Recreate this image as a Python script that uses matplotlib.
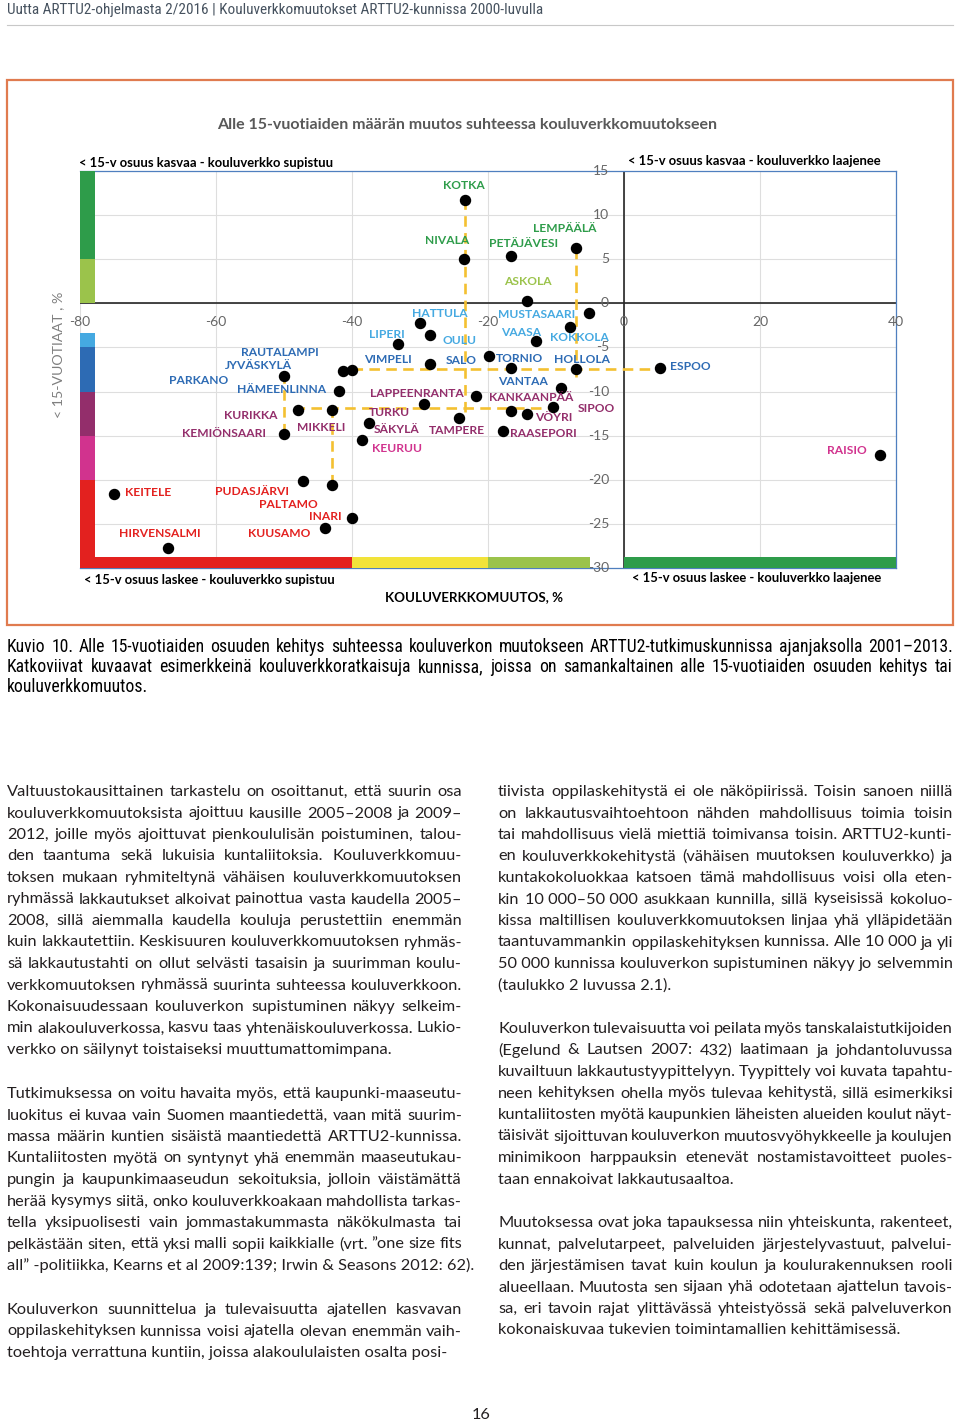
import matplotlib
matplotlib.use("Agg")
import matplotlib.pyplot as plt
from matplotlib import font_manager as fm
from matplotlib.patches import Rectangle
from matplotlib.lines import Line2D

W, H = 960, 1422
plt.rcParams["font.family"] = ["Lato", "DejaVu Sans"]

# kapea kirjasin otsakkeelle ja kuvatekstille, jos sellainen löytyy
asennetut = {f.name for f in fm.fontManager.ttflist}
kapea = "Lato"
for nimi in ["Roboto Condensed", "Liberation Sans Narrow", "Open Sans Condensed"]:
    if nimi in asennetut:
        kapea = nimi
        break

# ---- kuvion data (luettu kuvasta) ----
kunnat = ["KOTKA", "NIVALA", "PETÄJÄVESI", "LEMPÄÄLÄ", "ASKOLA", "MUSTASAARI",
          "HATTULA", "KOKKOLA", "OULU", "VAASA", "LIPERI", "SALO", "VIMPELI",
          "TORNIO", "HOLLOLA", "ESPOO", "RAUTALAMPI", "JYVÄSKYLÄ", "PARKANO",
          "VANTAA", "HÄMEENLINNA", "LAPPEENRANTA", "TURKU", "SIPOO", "KURIKKA",
          "MIKKELI", "KANKAANPÄÄ", "VÖYRI", "TAMPERE", "SÄKYLÄ", "RAASEPORI",
          "KEMIÖNSAARI", "KEURUU", "RAISIO", "PUDASJÄRVI", "PALTAMO", "KEITELE",
          "INARI", "KUUSAMO", "HIRVENSALMI"]
# kouluverkkomuutos, %
verkko = [-23.4, -23.5, -16.6, -7.1, -14.2, -5.2,
          -30.0, -8.0, -28.6, -12.9, -33.3, -19.9, -28.6,
          -16.6, -7.1, 5.3, -41.3, -40.0, -50.0,
          -9.3, -41.9, -21.8, -29.4, -10.5, -48.0,
          -42.9, -16.6, -14.2, -24.3, -37.5, -17.8,
          -50.0, -38.5, 37.7, -47.2, -42.9, -75.0,
          -40.0, -44.0, -67.1]
# alle 15-vuotiaiden osuuden muutos, %
alle15 = [11.7, 5.0, 5.4, 6.3, 0.3, -1.1,
          -2.2, -2.7, -3.6, -4.3, -4.6, -6.0, -6.9,
          -7.3, -7.4, -7.3, -7.7, -7.6, -8.2,
          -9.6, -9.9, -10.5, -11.4, -11.8, -12.1,
          -12.1, -12.2, -12.6, -13.0, -13.6, -14.5,
          -14.8, -15.5, -17.2, -20.1, -20.6, -21.6,
          -24.3, -25.5, -27.7]

# katkoviivat (esimerkkiratkaisut)
pysty_x = [-23.4, -7.1, -50.0, -42.9]
pysty_ala = [-12.3, -8.4, -14.8, -20.6]
pysty_yla = [11.7, 6.3, -8.2, -12.1]
vaaka_y = [-7.5, -11.9]
vaaka_vasen = [-40.0, -48.5]
vaaka_oikea = [5.3, -10.5]

x_ticks = [-80, -60, -40, -20, 0, 20, 40]
y_ticks = [15, 10, 5, 0, -5, -10, -15, -20, -25, -30]

# värivyöhykkeet y-akselilla ja x-akselilla
y_rajat = [15, 5, 0, -5, -10, -15, -20, -30]
y_varit = ["#2e9c4a", "#9bc34b", "#45a9e1", "#2d6bb4", "#932e6b", "#d1338e", "#e3211f"]
x_rajat = [-80, -40, -20, -5, 0, 40]
x_varit = ["#e3211f", "#f2e33a", "#9bc34b", None, "#2e9c4a"]

# nimien paikat (keskipiste, datakoordinaateissa)
nimi_paikka = {
    "KOTKA": (-23.6, 13.3), "NIVALA": (-26.0, 7.1), "PETÄJÄVESI": (-14.8, 6.8),
    "LEMPÄÄLÄ": (-8.7, 8.5), "ASKOLA": (-14.2, 2.5), "MUSTASAARI": (-12.8, -1.3),
    "HATTULA": (-27.1, -1.1), "LIPERI": (-34.9, -3.5), "OULU": (-24.2, -4.2),
    "VAASA": (-15.1, -3.3), "KOKKOLA": (-6.5, -3.9), "VIMPELI": (-34.7, -6.4),
    "SALO": (-23.9, -6.5), "TORNIO": (-15.3, -6.2), "HOLLOLA": (-6.2, -6.4),
    "VANTAA": (-14.9, -8.9), "LAPPEENRANTA": (-30.4, -10.2),
    "KANKAANPÄÄ": (-13.6, -10.7), "SIPOO": (-4.1, -11.9), "TURKU": (-34.5, -12.4),
    "VÖYRI": (-10.3, -12.9), "SÄKYLÄ": (-33.4, -14.3), "TAMPERE": (-24.6, -14.4),
    "RAASEPORI": (-11.9, -14.8), "KEURUU": (-33.4, -16.5),
    "RAUTALAMPI": (-50.6, -5.6), "JYVÄSKYLÄ": (-53.8, -7.1), "PARKANO": (-62.6, -8.7),
    "HÄMEENLINNA": (-50.3, -9.8), "KURIKKA": (-54.9, -12.7),
    "KEMIÖNSAARI": (-58.8, -14.8), "MIKKELI": (-44.6, -14.1),
    "ESPOO": (9.8, -7.2), "RAISIO": (32.8, -16.7), "KEITELE": (-70.0, -21.4),
    "PUDASJÄRVI": (-54.7, -21.3), "PALTAMO": (-49.4, -22.8), "INARI": (-43.9, -24.2),
    "HIRVENSALMI": (-68.2, -26.1), "KUUSAMO": (-50.7, -26.1),
}

# ---- sivun tekstit ----
otsake = "Uutta ARTTU2-ohjelmasta 2/2016 | Kouluverkkomuutokset ARTTU2-kunnissa 2000-luvulla"
kuvateksti = [
    "Kuvio 10. Alle 15-vuotiaiden osuuden kehitys suhteessa kouluverkon muutokseen ARTTU2-tutkimuskunnissa ajanjaksolla 2001–2013.",
    "Katkoviivat kuvaavat esimerkkeinä kouluverkkoratkaisuja kunnissa, joissa on samankaltainen alle 15-vuotiaiden osuuden kehitys tai",
    "kouluverkkomuutos.",
]
vasen_palsta = [
    (791, [
        "Valtuustokausittainen tarkastelu on osoittanut, että suurin osa",
        "kouluverkkomuutoksista ajoittuu kausille 2005–2008 ja 2009–",
        "2012, joille myös ajoittuvat pienkoululisän poistuminen, talou-",
        "den taantuma sekä lukuisia kuntaliitoksia. Kouluverkkomuu-",
        "toksen mukaan ryhmiteltynä vähäisen kouluverkkomuutoksen",
        "ryhmässä lakkautukset alkoivat painottua vasta kaudella 2005–",
        "2008, sillä aiemmalla kaudella kouluja perustettiin enemmän",
        "kuin lakkautettiin. Keskisuuren kouluverkkomuutoksen ryhmäs-",
        "sä lakkautustahti on ollut selvästi tasaisin ja suurimman koulu-",
        "verkkomuutoksen ryhmässä suurinta suhteessa kouluverkkoon.",
        "Kokonaisuudessaan kouluverkon supistuminen näkyy selkeim-",
        "min alakouluverkossa, kasvu taas yhtenäiskouluverkossa. Lukio-",
        "verkko on säilynyt toistaiseksi muuttumattomimpana.",
    ]),
    (1093, [
        "Tutkimuksessa on voitu havaita myös, että kaupunki-maaseutu-",
        "luokitus ei kuvaa vain Suomen maantiedettä, vaan mitä suurim-",
        "massa määrin kuntien sisäistä maantiedettä ARTTU2-kunnissa.",
        "Kuntaliitosten myötä on syntynyt yhä enemmän maaseutukau-",
        "pungin ja kaupunkimaaseudun sekoituksia, jolloin väistämättä",
        "herää kysymys siitä, onko kouluverkkoakaan mahdollista tarkas-",
        "tella yksipuolisesti vain jommastakummasta näkökulmasta tai",
        "pelkästään siten, että yksi malli sopii kaikkialle (vrt. ”one size fits",
        "all” -politiikka, Kearns et al 2009:139; Irwin & Seasons 2012: 62).",
    ]),
    (1309, [
        "Kouluverkon suunnittelua ja tulevaisuutta ajatellen kasvavan",
        "oppilaskehityksen kunnissa voisi ajatella olevan enemmän vaih-",
        "toehtoja verrattuna kuntiin, joissa alakoululaisten osalta posi-",
    ]),
]
oikea_palsta = [
    (791, [
        "tiivista oppilaskehitystä ei ole näköpiirissä. Toisin sanoen niillä",
        "on lakkautusvaihtoehtoon nähden mahdollisuus toimia toisin",
        "tai mahdollisuus vielä miettiä toimivansa toisin. ARTTU2-kunti-",
        "en kouluverkkokehitystä (vähäisen muutoksen kouluverkko) ja",
        "kuntakokoluokkaa katsoen tämä mahdollisuus voisi olla eten-",
        "kin 10\u00a0000–50\u00a0000 asukkaan kunnilla, sillä kyseisissä kokoluo-",
        "kissa maltillisen kouluverkkomuutoksen linjaa yhä ylläpidetään",
        "taantuvammankin oppilaskehityksen kunnissa. Alle 10\u00a0000 ja yli",
        "50\u00a0000 kunnissa kouluverkon supistuminen näkyy jo selvemmin",
        "(taulukko 2 luvussa 2.1).",
    ]),
    (1028, [
        "Kouluverkon tulevaisuutta voi peilata myös tanskalaistutkijoiden",
        "(Egelund & Lautsen 2007: 432) laatimaan ja johdantoluvussa",
        "kuvailtuun lakkautustyypittelyyn. Tyypittely voi kuvata tapahtu-",
        "neen kehityksen ohella myös tulevaa kehitystä, sillä esimerkiksi",
        "kuntaliitosten myötä kaupunkien läheisten alueiden koulut näyt-",
        "täisivät sijoittuvan kouluverkon muutosvyöhykkeelle ja koulujen",
        "minimikoon harppauksin etenevät nostamistavoitteet puoles-",
        "taan ennakoivat lakkautusaaltoa.",
    ]),
    (1222, [
        "Muutoksessa ovat joka tapauksessa niin yhteiskunta, rakenteet,",
        "kunnat, palvelutarpeet, palveluiden järjestelyvastuut, palvelui-",
        "den järjestämisen tavat kuin koulun ja koulurakennuksen rooli",
        "alueellaan. Muutosta sen sijaan yhä odotetaan ajattelun tavois-",
        "sa, eri tavoin rajat ylittävässä yhteistyössä sekä palveluverkon",
        "kokonaiskuvaa tukevien toimintamallien kehittämisessä.",
    ]),
]

fig = plt.figure(figsize=(W / 100, H / 100), dpi=100)
renderer = fig.canvas.get_renderer()


def fx(x):
    return x / W


def fy(y):
    return 1 - y / H


def leveys(s, size, weight="normal", family="Lato"):
    t = fig.text(0, 0, s, fontsize=size, weight=weight, family=[family, "DejaVu Sans"])
    w = t.get_window_extent(renderer).width
    t.remove()
    return w


def sovita(s, target, weight="normal", family="Lato"):
    return 10 * target / leveys(s, 10, weight, family)


def tasaa(rivit, x0, x1, y0, askel, size, color="#231f20", family="Lato"):
    # tasattu kappale: sanat levitetään palstan leveydelle, viimeinen rivi vasemmalle
    fam = [family, "DejaVu Sans"]
    for i, rivi in enumerate(rivit):
        y = fy(y0 + i * askel + 5)
        sanat = rivi.split(" ")
        if i == len(rivit) - 1 or len(sanat) < 2:
            fig.text(fx(x0), y, rivi, fontsize=size, color=color, va="baseline", family=fam)
            continue
        lev = [leveys(s, size, family=family) for s in sanat]
        vali = (x1 - x0 - sum(lev)) / (len(sanat) - 1)
        x = x0
        for s, l in zip(sanat, lev):
            fig.text(fx(x), y, s, fontsize=size, color=color, va="baseline", family=fam)
            x += l + vali


# ---- sivun ylä- ja alaosa ----
fig.text(fx(7), fy(14), otsake, fontsize=sovita(otsake, 534, family=kapea),
         color="#46525f", va="baseline", family=[kapea, "DejaVu Sans"])
fig.add_artist(Line2D([fx(7), fx(953)], [fy(25), fy(25)], color="#c8c8c8", lw=0.8))
fig.add_artist(Rectangle((fx(7), fy(625)), fx(946), 545 / H, fill=False,
                         ec="#e07b4f", lw=1.6))

kt_size = sovita(kuvateksti[-1], 141, family=kapea)
tasaa(kuvateksti, 7, 953, 647, 20, kt_size, color="black", family=kapea)

body = sovita(vasen_palsta[0][1][-1], 383)
for y0, rivit in vasen_palsta:
    tasaa(rivit, 7, 462, y0, 21.5, body)
for y0, rivit in oikea_palsta:
    tasaa(rivit, 498, 953, y0, 21.5, body)
fig.text(fx(481), fy(1419), "16", fontsize=body, color="#231f20", ha="center", va="baseline")

# ---- kuvion otsikot ----
otsikko = "Alle 15-vuotiaiden määrän muutos suhteessa kouluverkkomuutokseen"
fig.text(fx(467), fy(125), otsikko, fontsize=sovita(otsikko, 505, "bold"),
         weight="bold", color="#595959", ha="center", va="center")
q_size = sovita("< 15-v osuus kasvaa - kouluverkko supistuu", 252, "bold")
for txt, x, y in [("< 15-v osuus kasvaa - kouluverkko supistuu", 79, 163),
                  ("< 15-v osuus kasvaa - kouluverkko laajenee", 628, 161),
                  ("< 15-v osuus laskee - kouluverkko supistuu", 84, 580),
                  ("< 15-v osuus laskee - kouluverkko laajenee", 632, 578)]:
    fig.text(fx(x), fy(y), txt, fontsize=q_size, weight="bold", color="black", va="center")
xl = "KOULUVERKKOMUUTOS, %"
fig.text(fx(385), fy(597), xl, fontsize=sovita(xl, 178, "bold"), weight="bold",
         color="black", va="center")
yl = "< 15-VUOTIAAT , %"
fig.text(fx(58), fy(355), yl, fontsize=sovita(yl, 126), rotation=90, color="#7f7f7f",
         ha="center", va="center")

# ---- itse kuvio ----
ax = fig.add_axes([fx(80), fy(568), 816 / W, 397 / H])
ax.set_xlim(-80, 40)
ax.set_ylim(-30, 15)
ax.set_xticks(x_ticks)
ax.set_yticks(y_ticks)
ax.grid(color="#dedede", lw=0.8, zorder=0)
ax.set_axisbelow(True)
ax.tick_params(length=0, labelbottom=False, labelleft=False)
for side in ["top", "right", "bottom"]:
    ax.spines[side].set_color("#4f7fbf")
    ax.spines[side].set_linewidth(0.9)
ax.spines["left"].set_visible(False)
ax.axhline(0, color="#262626", lw=1.2, zorder=2)
ax.axvline(0, color="#262626", lw=1.2, zorder=2)

for t in x_ticks:
    ax.text(t, -2.15, str(t), fontsize=10, color="#666666", ha="center", va="center")
for t in y_ticks:
    ax.text(-2.2, t, str(t), fontsize=10, color="#666666", ha="right", va="center")

# värivyöhykkeet reunoilla
for i, c in enumerate(y_varit):
    yla = min(y_rajat[i], -3.4) if c == "#45a9e1" else y_rajat[i]
    ax.add_patch(Rectangle((-80, y_rajat[i + 1]), 2.2, yla - y_rajat[i + 1],
                           color=c, lw=0, zorder=4, clip_on=False))
for i, c in enumerate(x_varit):
    if c is None:
        continue
    ax.add_patch(Rectangle((x_rajat[i], -30), x_rajat[i + 1] - x_rajat[i], 1.25,
                           color=c, lw=0, zorder=4, clip_on=False))

viiva = dict(colors="#f4c031", linestyles=(0, (4, 2.4)), lw=1.9, zorder=3)
ax.vlines(pysty_x, pysty_ala, pysty_yla, **viiva)
ax.hlines(vaaka_y, vaaka_vasen, vaaka_oikea, **viiva)

ax.scatter(verkko, alle15, s=52, color="black", zorder=5, clip_on=False)

nimi_size = sovita("LAPPEENRANTA", 93, "bold")


def vari(y):
    for i in range(len(y_varit)):
        if y_rajat[i + 1] <= y:
            return y_varit[i]
    return y_varit[-1]


for nimi, y in zip(kunnat, alle15):
    lx, ly = nimi_paikka[nimi]
    ax.text(lx, ly, nimi, fontsize=nimi_size, weight="bold", color=vari(y),
            ha="center", va="center", zorder=6)

fig.savefig("out.png", dpi=100)
